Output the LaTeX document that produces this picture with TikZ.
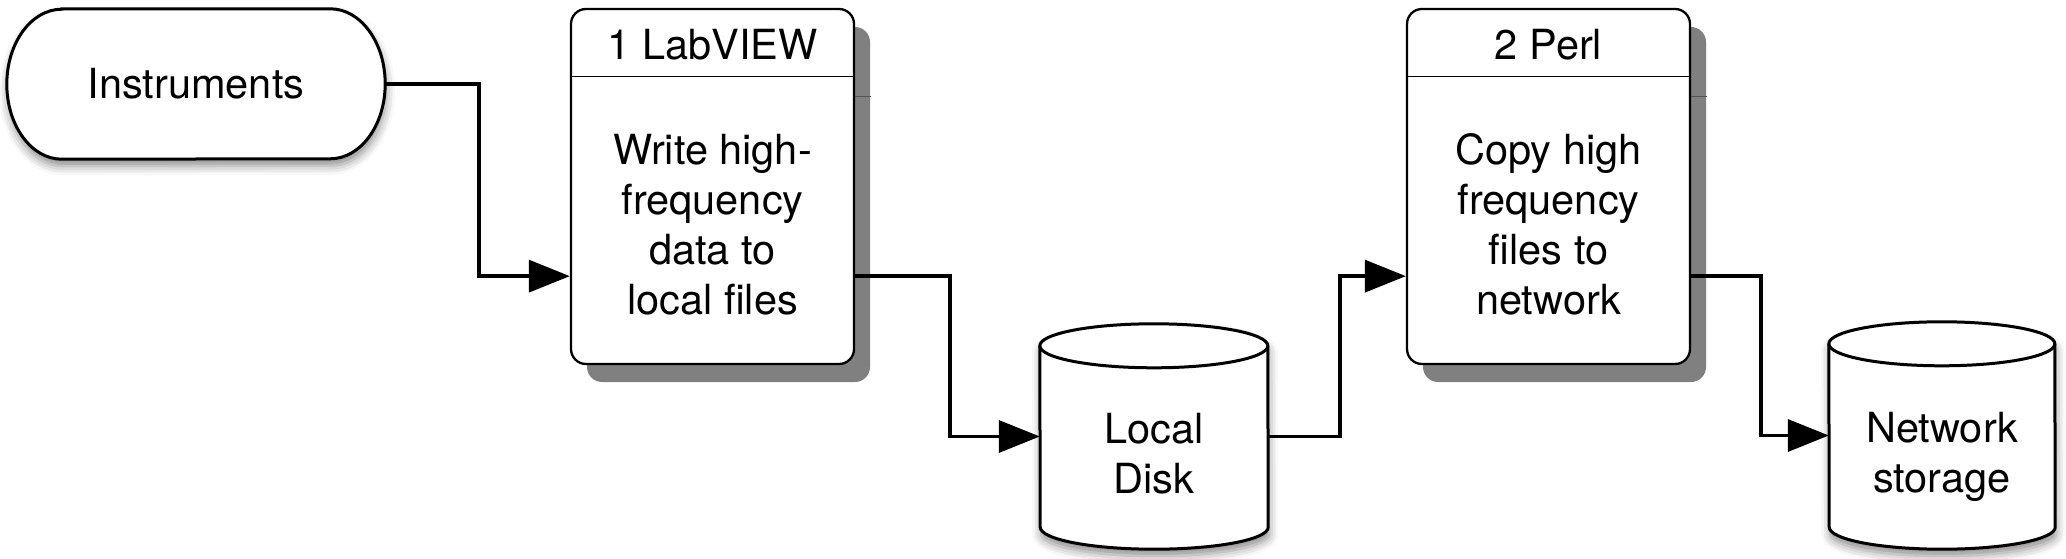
\documentclass[tikz,border=0pt]{standalone}
\usepackage{fontspec}
\setmainfont{TeX Gyre Heros}
\usetikzlibrary{arrows.meta,calc,shadows,shadows.blur}
\begin{document}
\begin{tikzpicture}[x=1pt,y=1pt,
  txt/.style={font=\fontsize{41.5}{50}\selectfont, align=center, inner sep=0pt},
  holder/.style={draw=none, inner sep=0pt, minimum width=#1},
  procbox/.style={draw, line width=2.3pt, fill=white, rounded corners=15pt,
     minimum width=283pt, minimum height=355pt, inner sep=0pt,
     drop shadow={shadow xshift=16pt, shadow yshift=-18pt, fill=black!50, opacity=1}},
  hdrline/.style={line width=1.2pt},
  shline/.style={black!68, line width=1.2pt},
  conn/.style={line width=3.5pt, draw=black, fill opacity=1, draw opacity=1,
     -{Triangle[length=41pt,width=32pt,fill=black]}},
  softshadow/.style={blur shadow={shadow xshift=1pt, shadow yshift=-7pt, shadow blur radius=9pt, shadow opacity=45}},
  outline/.style={draw, line width=3pt, fill=white, softshadow}
]
\useasboundingbox (0,0) rectangle (2066,558);

% Instruments (terminator)
\node[holder=378pt, minimum height=150pt] (inst) at (196,474) {};
\begin{scope}
\path[outline] ([xshift=55pt]inst.north west) -- ([xshift=-55pt]inst.north east)
   arc[start angle=90, end angle=-90, x radius=55, y radius=75]
   -- ([xshift=55pt]inst.south west)
   arc[start angle=270, end angle=90, x radius=55, y radius=75] -- cycle;
\end{scope}
\node[txt] (insttxt) at (inst.center) {Instruments};

% Process boxes
\node[procbox] (box1) at (712.5,371.5) {};
\draw[hdrline] ([yshift=-69pt]box1.north west) -- ([yshift=-69pt]box1.north east);
\draw[shline] ([yshift=-89pt]box1.north east) -- ++(16,0);
\node[txt] (box1h) at ([yshift=-37pt]box1.north) {1 LabVIEW};
\node[txt] (box1b) at ([yshift=-38pt]box1.center) {Write high-\\frequency\\data to\\local files};

\node[procbox] (box2) at (1548.5,371.5) {};
\draw[hdrline] ([yshift=-69pt]box2.north west) -- ([yshift=-69pt]box2.north east);
\draw[shline] ([yshift=-89pt]box2.north east) -- ++(16,0);
\node[txt] (box2h) at ([yshift=-37pt]box2.north) {2 Perl};
\node[txt] (box2b) at ([yshift=-38pt]box2.center) {Copy high\\frequency\\files to\\network};

% Cylinders
\node[holder=228pt, minimum height=225pt] (disk) at (1154,121.5) {};
\begin{scope}
\path[outline] ([yshift=-22pt]disk.north west)
   arc[start angle=180, end angle=0, x radius=114, y radius=22]
   -- ([yshift=22pt]disk.south east)
   arc[start angle=0, end angle=-180, x radius=114, y radius=22] -- cycle;
\end{scope}
\draw[line width=3pt] ([yshift=-22pt]disk.north west)
   arc[start angle=180, end angle=360, x radius=114, y radius=22];
\node[txt] (disklabel) at ([yshift=-17pt]disk.center) {Local\\Disk};

\node[holder=226pt, minimum height=227pt] (net) at (1942,122.5) {};
\begin{scope}
\path[outline] ([yshift=-22pt]net.north west)
   arc[start angle=180, end angle=0, x radius=113, y radius=22]
   -- ([yshift=22pt]net.south east)
   arc[start angle=0, end angle=-180, x radius=113, y radius=22] -- cycle;
\end{scope}
\draw[line width=3pt] ([yshift=-22pt]net.north west)
   arc[start angle=180, end angle=360, x radius=113, y radius=22];
\node[txt] (netlabel) at ([yshift=-21pt]net.center) {Network\\storage};

% Connectors
\draw[conn] (inst.east) -- ++(94,0) |- ([yshift=89pt]box1.south west);
\draw[conn] ([yshift=89pt]box1.south east) -- ++(95,0) |- (disk.west);
\draw[conn] (disk.east) -- ++(72,0) |- ([yshift=89pt]box2.south west);
\draw[conn] ([yshift=89pt]box2.south east) -- ++(70,0) |- (net.west);
\end{tikzpicture}
\end{document}
